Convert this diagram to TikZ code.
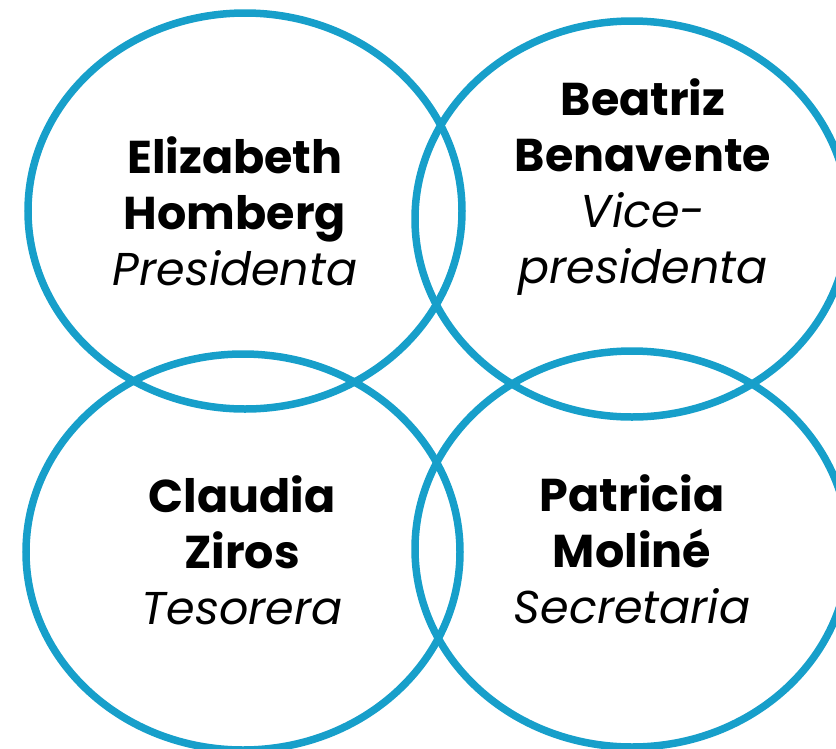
\documentclass[tikz,border=0pt]{standalone}
\usepackage{fontspec}
\setmainfont{Poppins}
\usetikzlibrary{shapes.geometric, positioning}
\definecolor{ringblue}{HTML}{179FCA}
\tikzset{
  % Anillos de los cargos
  ring/.style={ellipse, draw=ringblue, line width=7.5pt, minimum width=434pt, minimum height=396pt, inner sep=0pt},
  % Nombre y cargo
  member/.style={align=center, font=\fontsize{46}{56}\selectfont, text=black, inner sep=0pt}
}
\begin{document}
\begin{tikzpicture}[x=1pt, y=-1pt]
\useasboundingbox (0,0) rectangle (836,748);

% Anillos
\node[ring] (pres) at (245,211) {};
\node[ring] (vice) at (632,219) {};
\node[ring] (teso) at (243,552) {};
\node[ring] (secr) at (632,549) {};

% Nombres
\node[member] (presname) at (235,211) {\textbf{Elizabeth}\\\textbf{Homberg}\\\textit{Presidenta}};
\node[member] (vicename) at (643,187) {\textbf{Beatriz}\\\textbf{Benavente}\\\textit{Vice-}\\\textit{presidenta}};
\node[member] (tesoname) at (242,550) {\textbf{Claudia}\\\textbf{Ziros}\\\textit{Tesorera}};
\node[member] (secrname) at (632,549) {\textbf{Patricia}\\\textbf{Moliné}\\\textit{Secretaria}};

\end{tikzpicture}
\end{document}
